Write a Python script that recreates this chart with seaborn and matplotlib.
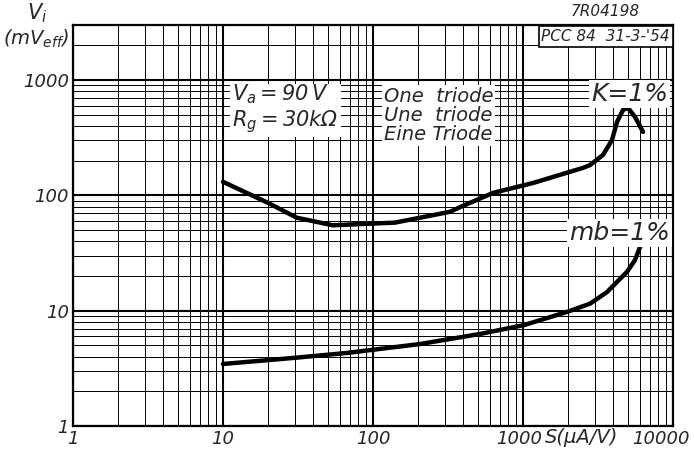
import matplotlib
matplotlib.use("Agg")
import numpy as np
import pandas as pd
import matplotlib.pyplot as plt
from matplotlib.ticker import FixedLocator, LogLocator, NullFormatter
from matplotlib.transforms import ScaledTranslation
import seaborn as sns

# K = 1 % curve: transconductance S (uA/V) vs input voltage Vi (mV eff)
k_s = [10, 20, 31, 54, 86, 140, 206, 326, 380, 631, 1166, 2057, 2512, 2797,
       3415, 3920, 4236, 4642, 5012, 5580, 6310]
k_vi = [131, 86, 64, 55, 56.5, 58, 64, 72, 79, 105, 128, 160, 173, 183,
        224, 302, 433, 550, 573, 479, 355]

# mb = 1 % curve
mb_s = [10, 30, 67, 206, 517, 1016, 1965, 2800, 3631, 4935, 5580, 6215]
mb_vi = [3.45, 3.9, 4.3, 5.14, 6.28, 7.5, 9.75, 11.5, 14.5, 21.7, 27.5, 39.4]

x_ticks = [1, 10, 100, 1000, 10000]
x_labels = ["1", "10", "100", "1000", "10000"]
y_ticks = [1, 10, 100, 1000]
y_labels = ["1", "10", "100", "1000"]

sns.set_style("white")
plt.rcParams["font.family"] = ["DejaVu Sans"]
plt.rcParams["font.style"] = "italic"
plt.rcParams["mathtext.fontset"] = "dejavusans"
plt.rcParams["mathtext.default"] = "it"

df_k = pd.DataFrame({"S": k_s, "Vi": k_vi})
df_mb = pd.DataFrame({"S": mb_s, "Vi": mb_vi})

fig = plt.figure(figsize=(6.94, 4.54), dpi=100)
ax = fig.add_axes([73 / 694, 28 / 454, 600 / 694, 401 / 454])

sns.lineplot(data=df_k, x="S", y="Vi", ax=ax, color="black", lw=3.2,
             sort=False, estimator=None, zorder=5)
sns.lineplot(data=df_mb, x="S", y="Vi", ax=ax, color="black", lw=3.2,
             sort=False, estimator=None, zorder=5)

ax.set_xscale("log")
ax.set_yscale("log")
ax.set_xlim(1, 10000)
ax.set_ylim(1, 3000)

ax.xaxis.set_major_locator(FixedLocator(x_ticks))
ax.yaxis.set_major_locator(FixedLocator(y_ticks))
ax.set_xticklabels(x_labels)
ax.set_yticklabels(y_labels)
ax.xaxis.set_minor_locator(LogLocator(base=10, subs=np.arange(2, 10)))
ax.yaxis.set_minor_locator(LogLocator(base=10, subs=np.arange(2, 10)))
ax.xaxis.set_minor_formatter(NullFormatter())
ax.yaxis.set_minor_formatter(NullFormatter())
ax.tick_params(which="both", length=0, labelsize=13, pad=3)

# the last x label sits a bit to the left, like on the sheet
last = ax.get_xticklabels()[-1]
last.set_transform(last.get_transform() + ScaledTranslation(-0.12, 0, fig.dpi_scale_trans))
# and 1000 slightly left too, to leave room for the unit
k1000 = ax.get_xticklabels()[-2]
k1000.set_transform(k1000.get_transform() + ScaledTranslation(-0.04, 0, fig.dpi_scale_trans))

ax.grid(which="major", color="black", lw=1.5)
ax.grid(which="minor", color="black", lw=0.7)
ax.set_axisbelow(True)
for sp in ax.spines.values():
    sp.set_color("black")
    sp.set_linewidth(1.6)
ax.set_xlabel("")
ax.set_ylabel("")

box = dict(facecolor="white", edgecolor="none", pad=1.5)
ax.text(11.5, 950, "$V_a = 90\\,V$\n$R_g = 30k\\Omega$", fontsize=15,
        va="top", ha="left", bbox=box, zorder=6, linespacing=1.1)
ax.text(118, 870, "One  triode\nUne  triode\nEine Triode", fontsize=14,
        va="top", ha="left", bbox=box, zorder=6, linespacing=1.0)
ax.text(9300, 960, "K=1%", fontsize=18, va="top", ha="right", bbox=box, zorder=6)
ax.text(9500, 60, "mb=1%", fontsize=18, va="top", ha="right", bbox=box, zorder=6)
ax.text(1400, 0.80, "S(µA/V)", fontsize=14, va="center", ha="left", clip_on=False)

ax.text(0.995, 0.99, "PCC 84  31-3-'54", transform=ax.transAxes, fontsize=11,
        va="top", ha="right", zorder=6,
        bbox=dict(facecolor="white", edgecolor="black", lw=1.2, pad=2))
fig.text(605 / 694, 1 - 12 / 454, "7R04198", fontsize=11, ha="center", va="center")

fig.text(37 / 694, 1 - 13 / 454, "$V_i$", fontsize=15, ha="center", va="center")
fig.text(36 / 694, 1 - 39 / 454, "$(mV_{eff})$", fontsize=14, ha="center", va="center")

fig.savefig("out.png", dpi=100, facecolor="white")
